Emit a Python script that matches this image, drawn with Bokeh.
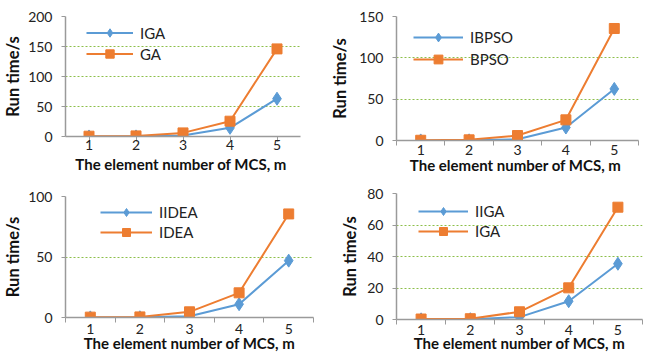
from bokeh.plotting import figure
from bokeh.models import Range1d, FixedTicker, Legend, LegendItem
from bokeh.layouts import column, row
from bokeh.embed import file_html
from bokeh.resources import INLINE

m_values = [1, 2, 3, 4, 5]

# Panel (a)
a_names = ["IGA", "GA"]
a_improved = [0.1, 0.2, 1.6, 14.4, 63]
a_base = [0.5, 1.0, 6.0, 25.5, 146]
a_yticks = [0, 50, 100, 150, 200]

# Panel (b)
b_names = ["IBPSO", "BPSO"]
b_improved = [0.1, 0.2, 1.5, 15.7, 62.4]
b_base = [0.3, 0.8, 6.0, 25.0, 135.5]
b_yticks = [0, 50, 100, 150]

# Panel (c)
c_names = ["IIDEA", "IDEA"]
c_improved = [0.1, 0.2, 1.1, 11.0, 47.0]
c_base = [0.3, 0.5, 4.7, 20.4, 85.6]
c_yticks = [0, 50, 100]

# Panel (d)
d_names = ["IIGA", "IGA"]
d_improved = [0.1, 0.2, 1.5, 11.6, 35.4]
d_base = [0.3, 0.5, 4.9, 20.1, 71.3]
d_yticks = [0, 20, 40, 60, 80]

x_title_ab = "The element number of  MCS, m"
x_title_cd = "The element number of MCS, m"
y_title = "Run time/s"

BLUE = "#5B9BD5"
ORANGE = "#ED7D31"
GRID = "#8DBF4A"
AXIS = "#9A9A9A"
FONT = "Lato"


def panel(w, h, left, right, top, bottom, yticks, names, improved, base,
          xtitle, leg_xy, row_h, glyph_w, ticks_on_cat, xl_standoff,
          xt_standoff, ylab_standoff):
    p = figure(width=w, height=h, output_backend="svg", toolbar_location=None,
               min_border_left=left, min_border_right=right,
               min_border_top=top, min_border_bottom=bottom,
               x_range=Range1d(0.5, 5.5), y_range=Range1d(0, yticks[-1]))
    p.outline_line_color = None
    p.xgrid.visible = False
    p.ygrid.grid_line_color = GRID
    p.ygrid.grid_line_dash = "2 2"
    p.ygrid.grid_line_width = 1.2

    xa = p.xaxis[0]
    if ticks_on_cat:
        xa.ticker = FixedTicker(ticks=m_values)
        xa.major_tick_out = 5
        xa.major_tick_in = 0
        xa.minor_tick_out = 0
    else:
        xa.ticker = FixedTicker(ticks=m_values,
                                minor_ticks=[v - 0.5 for v in m_values] + [5.5])
        xa.major_tick_out = 0
        xa.major_tick_in = 0
        xa.minor_tick_out = 5
        xa.minor_tick_in = 0
    xa.major_label_standoff = xl_standoff
    xa.minor_tick_line_color = AXIS
    xa.major_tick_line_color = AXIS
    xa.axis_line_color = AXIS
    xa.axis_line_width = 1.5
    xa.major_label_text_font = FONT
    xa.major_label_text_font_size = "14px"
    xa.major_label_text_color = "#222222"
    xa.axis_label = xtitle
    xa.axis_label_text_font = FONT
    xa.axis_label_text_font_size = "15px"
    xa.axis_label_text_font_style = "bold"
    xa.axis_label_text_color = "#111111"
    xa.axis_label_standoff = xt_standoff

    ya = p.yaxis[0]
    ya.ticker = FixedTicker(ticks=yticks)
    ya.major_tick_out = 4
    ya.major_tick_in = 0
    ya.minor_tick_out = 0
    ya.minor_tick_in = 0
    ya.major_tick_line_color = AXIS
    ya.axis_line_color = AXIS
    ya.axis_line_width = 1.5
    ya.major_label_text_font = FONT
    ya.major_label_text_font_size = "14px"
    ya.major_label_text_color = "#222222"
    ya.major_label_standoff = 9
    ya.axis_label = y_title
    ya.axis_label_text_font = FONT
    ya.axis_label_text_font_size = "16.5px"
    ya.axis_label_text_font_style = "bold"
    ya.axis_label_text_color = "#111111"
    ya.axis_label_standoff = ylab_standoff

    l1 = p.line(m_values, improved, line_color=BLUE, line_width=2)
    s1 = p.scatter(m_values, improved, marker="diamond", size=13,
                   fill_color=BLUE, line_color=BLUE)
    l2 = p.line(m_values, base, line_color=ORANGE, line_width=2)
    s2 = p.scatter(m_values, base, marker="square", size=10,
                   fill_color=ORANGE, line_color=ORANGE)

    leg = Legend(items=[LegendItem(label=names[0], renderers=[l1, s1]),
                        LegendItem(label=names[1], renderers=[l2, s2])],
                 location=leg_xy)
    leg.padding = 0
    leg.margin = 0
    leg.spacing = 0
    leg.glyph_width = glyph_w
    leg.glyph_height = row_h
    leg.label_height = row_h
    leg.label_standoff = 7
    leg.label_text_font = FONT
    leg.label_text_font_size = "15px"
    leg.label_text_color = "#222222"
    leg.border_line_color = None
    leg.background_fill_alpha = 0
    p.add_layout(leg)
    return p


p1 = panel(325, 177, 62, 25, 16, 41, a_yticks, a_names, a_improved, a_base,
           x_title_ab, (21, 72), 21, 47, True, -2, 2, 2)
p2 = panel(326, 177, 71, 13, 16, 37, b_yticks, b_names, b_improved, b_base,
           x_title_ab, (17, 70), 22, 50, False, -1, -2, 6)
p3 = panel(325, 177, 63, 12, 19, 37, c_yticks, c_names, c_improved, c_base,
           x_title_cd, (35, 75), 20, 52, False, 1, -3, 2)
p4 = panel(326, 177, 71, 9, 16, 35, d_yticks, d_names, d_improved, d_base,
           x_title_cd, (22, 78), 20, 50, False, 0, -4, 4)

layout = column(row(column(p1), column(p2)), row(column(p3), column(p4)))
open("out.html", "w").write(file_html(layout, INLINE))
